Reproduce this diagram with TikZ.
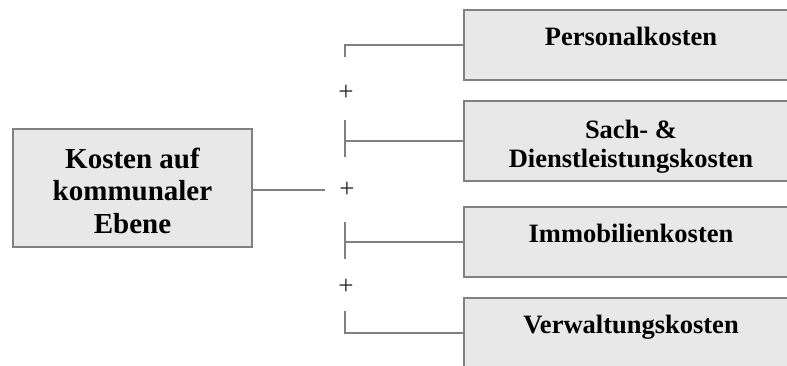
\documentclass[tikz,border=0pt]{standalone}
\usepackage{fontspec}
\setmainfont{Liberation Serif}
\definecolor{boxfill}{HTML}{E8E8E8}
\definecolor{linegray}{HTML}{808080}
\begin{document}
\begin{tikzpicture}[x=1bp,y=-1bp,
  box/.style={draw=linegray, fill=boxfill, line width=2.6bp, rectangle, inner sep=0pt},
  conn/.style={draw=linegray, line width=2.2bp},
  lefttext/.style={font=\bfseries\fontsize{29bp}{33.5bp}\selectfont, align=center, inner sep=0pt, anchor=base},
  righttext/.style={font=\bfseries\fontsize{26.5bp}{29bp}\selectfont, align=center, inner sep=0pt, anchor=base},
  plus/.style={font=\fontsize{27bp}{27bp}\selectfont, inner sep=0pt, text=black!85}]
\useasboundingbox (0,0) rectangle (787,365);
\clip (0,0) rectangle (787,365);
% boxes (right boxes run past the right edge, as in the reference)
\node[box, minimum width=239bp, minimum height=118bp] (lb) at (132.5,188) {};
\node[box, minimum width=400bp, minimum height=70bp] (b1) at (664,45) {};
\node[box, minimum width=400bp, minimum height=80bp] (b2) at (664,141) {};
\node[box, minimum width=400bp, minimum height=70bp] (b3) at (664,242) {};
\node[box, minimum width=400bp, minimum height=70bp] (b4) at (664,333) {};
% labels
\node[lefttext] (lt1) at (132.5,168) {Kosten auf};
\node[lefttext] (lt2) at (132.5,200) {kommunaler};
\node[lefttext] (lt3) at (132.5,233) {Ebene};
\node[righttext] (t1) at (631,45) {Personalkosten};
\node[righttext] (t2a) at (631,138) {Sach- \&};
\node[righttext] (t2b) at (631,167) {Dienstleistungskosten};
\node[righttext] (t3) at (631,242) {Immobilienkosten};
\node[righttext] (t4) at (631,333) {Verwaltungskosten};
% plus signs
\node[plus] (p1) at (346,93) {+};
\node[plus] (p2) at (347,190) {+};
\node[plus] (p3) at (346,287) {+};
% connectors
\coordinate (c0) at (325,190);
\draw[conn] (lb.east |- c0) -- (c0);
\coordinate (a1) at (345,57);
\draw[conn] (a1) |- (b1.west);
\coordinate (a2t) at (345,120);
\coordinate (a2b) at (345,157);
\draw[conn] (a2t) -- (a2b);
\draw[conn] (a2t |- b2.west) -- (b2.west);
\coordinate (a3t) at (345,222);
\coordinate (a3b) at (345,259);
\draw[conn] (a3t) -- (a3b);
\draw[conn] (a3t |- b3.west) -- (b3.west);
\coordinate (a4) at (345,311);
\draw[conn] (a4) |- (b4.west);
\end{tikzpicture}
\end{document}
